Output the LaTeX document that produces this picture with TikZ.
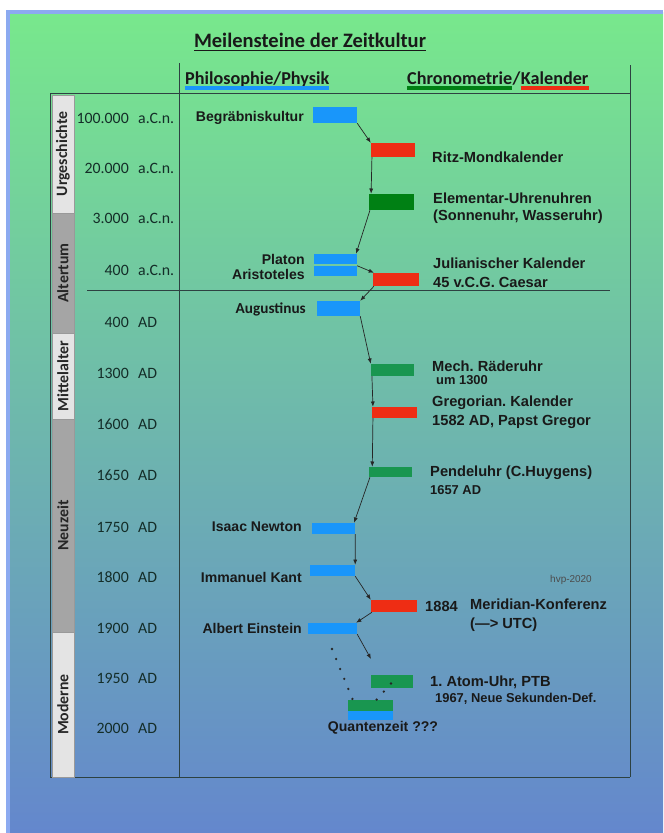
\documentclass[tikz,border=0pt]{standalone}
\usepackage{fontspec}
\setmainfont{Liberation Sans}
\newfontfamily\calibri{Carlito}
\usetikzlibrary{arrows.meta,calc}
\frenchspacing
\definecolor{philblue}{RGB}{25,150,250}
\definecolor{calred}{RGB}{238,45,20}
\definecolor{elemgreen}{RGB}{0,128,20}
\definecolor{uhrgreen}{RGB}{25,150,80}
\definecolor{eralight}{RGB}{228,228,228}
\definecolor{eragray}{RGB}{165,165,165}
\definecolor{linegray}{RGB}{45,65,65}
\definecolor{lbltext}{RGB}{25,25,25}
\definecolor{datetext}{RGB}{20,45,40}
\definecolor{bgtop}{RGB}{120,232,140}
\definecolor{bgmid}{RGB}{100,196,160}
\definecolor{bgbot}{RGB}{100,135,205}
\definecolor{frameblue}{RGB}{140,170,240}

\begin{document}
\begin{tikzpicture}[
  x=0.03cm, y=-0.03cm,
  bar/.style={rectangle, inner sep=0pt, minimum width=1.32cm, minimum height=0.36cm},
  philbar/.style={bar, fill=philblue},
  calbar/.style={bar, fill=calred},
  uhrbar/.style={bar, fill=uhrgreen},
  elembar/.style={bar, fill=elemgreen},
  erabox/.style={rectangle, draw=black!40, line width=0.4pt, inner sep=0pt,
    minimum width=0.66cm, text=black!85,
    font=\calibri\bfseries\fontsize{13.5}{15}\selectfont},
  yearnum/.style={anchor=east, inner sep=0pt, text=datetext,
    font=\calibri\fontsize{13.5}{15}\selectfont},
  yearsfx/.style={yearnum, anchor=west},
  persl/.style={anchor=east, inner sep=0pt, text=lbltext,
    font=\bfseries\fontsize{12}{14}\selectfont},
  evtl/.style={anchor=west, inner sep=0pt, align=left, text=lbltext,
    font=\bfseries\fontsize{12.5}{14.5}\selectfont},
  evsub/.style={evtl, font=\bfseries\fontsize{11}{13}\selectfont},
  headl/.style={anchor=base west, inner sep=0pt, text=black!90,
    font=\calibri\bfseries\fontsize{15.5}{17}\selectfont},
  frameline/.style={draw=linegray, line width=0.7pt},
  arr/.style={-{Latex[length=4.5pt,width=3.5pt]}, line width=0.6pt, color=black!85},
  dotline/.style={line width=2.2pt, line cap=round, dash pattern=on 0pt off 9.2pt, color=black!85}
]
\useasboundingbox (0,0) rectangle (663,833);
\fill[white] (0,0) rectangle (663,833);
% background
\shade[top color=bgtop, middle color=bgmid, bottom color=bgbot] (8,12) rectangle (663,833);
\draw[frameblue, line width=3pt] (663,12) -- (8,12) -- (8,833);

% title and column heads
\node[font=\calibri\bfseries\fontsize{17.5}{20}\selectfont, text=black!90] (title)
  at (310,42) {\underline{Meilensteine der Zeitkultur}};
\node[headl] (hphil) at (185,84) {Philosophie/Physik};
\node[headl] (hchron) at (407,84) {Chronometrie};
\node[headl] (hslash) at (hchron.base east) {/};
\node[headl] (hkal) at (hslash.base east) {Kalender};
\draw[philblue, line width=3.4pt] ([yshift=-3pt]hphil.base west) -- ([yshift=-3pt]hphil.base east);
\draw[elemgreen, line width=3.4pt] ([yshift=-3pt]hchron.base west) -- ([yshift=-3pt]hchron.base east);
\draw[calred, line width=3.4pt] ([yshift=-3pt]hkal.base west) -- ([yshift=-3pt]hkal.base east);

% table frame
\draw[frameline] (50,93) -- (630,93);
\draw[frameline] (50,93) -- (50,777) -- (630,777);
\draw[frameline] (179,63) -- (179,777);
\draw[frameline] (630,65) -- (630,777);
\draw[frameline] (87,290) -- (610,290);

% eras
\node[erabox, fill=eralight, minimum height=3.54cm] (urg) at (63,154) {\rotatebox{90}{Urgeschichte}};
\node[erabox, fill=eragray, minimum height=3.6cm] (alt) at (63,273) {\rotatebox{90}{Altertum}};
\node[erabox, fill=eralight, minimum height=2.58cm] (mit) at (63,376) {\rotatebox{90}{Mittelalter}};
\node[erabox, fill=eragray, minimum height=6.39cm] (neu) at (63,525.5) {\rotatebox{90}{Neuzeit}};
\node[erabox, fill=eralight, minimum height=4.35cm] (mod) at (63,704.5) {\rotatebox{90}{Moderne}};

% years
\foreach \yy/\num/\sfx [count=\i] in {118/100.000/a.C.n., 168/20.000/a.C.n.,
    218/3.000/a.C.n., 270/400/a.C.n., 322/400/AD, 373/1300/AD, 424/1600/AD,
    475/1650/AD, 527/1750/AD, 577/1800/AD, 628/1900/AD, 678/1950/AD, 728/2000/AD}{
  \node[yearnum] (num\i) at (129,\yy) {\num};
  \node[yearsfx] (sfx\i) at (138,\yy) {\sfx};
}

% bars
\node[philbar, minimum height=0.48cm] (beg) at (335,115) {};
\node[calbar, minimum height=0.42cm] (ritz) at (393,150) {};
\node[elembar, minimum width=1.35cm, minimum height=0.48cm] (elem) at (391.5,202) {};
\node[philbar, minimum width=1.29cm, minimum height=0.3cm] (platon) at (335.5,259) {};
\node[philbar, minimum width=1.29cm, minimum height=0.3cm] (arist) at (335.5,271) {};
\node[calbar, minimum width=1.38cm, minimum height=0.39cm] (julian) at (396,279.5) {};
\node[philbar, minimum width=1.29cm, minimum height=0.45cm] (aug) at (338.5,308.5) {};
\node[uhrbar, minimum width=1.29cm] (mech) at (392.5,370) {};
\node[calbar, minimum width=1.35cm, minimum height=0.33cm] (greg) at (394.5,412.5) {};
\node[uhrbar, minimum width=1.29cm, minimum height=0.3cm] (pend) at (390.5,472) {};
\node[philbar, minimum width=1.29cm, minimum height=0.33cm] (newton) at (333.5,528.5) {};
\node[philbar, minimum width=1.35cm, minimum height=0.33cm] (kant) at (332.5,570.5) {};
\node[calbar, minimum width=1.38cm] (merid) at (394,606) {};
\node[philbar, minimum width=1.47cm, minimum height=0.33cm] (einst) at (332.5,628.5) {};
\node[uhrbar, minimum width=1.26cm, minimum height=0.39cm] (atom) at (392,681.5) {};
\node[uhrbar, minimum width=1.35cm, minimum height=0.33cm] (quantg) at (370.5,705.5) {};
\node[philbar, minimum width=1.35cm, minimum height=0.27cm] (quantb) at (370.5,715.5) {};

% labels left
\node[persl] (begl) at (304,118) {Begräbniskultur};
\node[persl] (platonl) at (305,259) {Platon};
\node[persl] (aristl) at (305,274) {Aristoteles};
\node[persl, font=\calibri\bfseries\fontsize{13}{15}\selectfont] (augl) at (306,309) {Augustinus};
\node[persl] (newtonl) at (302,527) {Isaac Newton};
\node[persl] (kantl) at (302,577) {Immanuel Kant};
\node[persl] (einstl) at (302,628) {Albert Einstein};

% labels right
\node[evtl] (ritzl) at (432,157) {Ritz-Mondkalender};
\node[evtl] (eleml) at (433,208) {Elementar-Uhrenuhren\\(Sonnenuhr, Wasseruhr)};
\node[evtl, font=\bfseries\fontsize{12.5}{16}\selectfont] (julianl) at (433,273) {Julianischer Kalender\\45 v.C.G. Caesar};
\node[evtl] (mechl) at (432,366) {Mech. Räderuhr};
\node[evsub] (mechs) at (436,380) {um 1300};
\node[evtl, font=\bfseries\fontsize{12.5}{16}\selectfont] (gregl) at (432,412) {Gregorian. Kalender\\1582 AD, Papst Gregor};
\node[evtl] (pendl) at (430,473) {Pendeluhr (C.Huygens)};
\node[evsub] (pends) at (430,490) {1657 AD};
\node[evtl] (meridy) at (425,606) {1884};
\node[evtl, font=\bfseries\fontsize{12.5}{16}\selectfont] (meridl) at (470,615.5) {Meridian-Konferenz\\(—> UTC)};
\node[evtl] (atoml) at (430,682) {1. Atom-Uhr, PTB};
\node[evsub] (atoms) at (435,699) {1967, Neue Sekunden-Def.};
\node[persl, anchor=center] (quantl) at (383,728) {Quantenzeit ???};
\node[anchor=center, inner sep=0pt, font=\fontsize{8.5}{10}\selectfont, text=black!70] (sign) at (571,580) {hvp-2020};

% arrows
\draw[arr] (beg.south east) -- (ritz.north west);
\draw[arr] ([xshift=1pt]ritz.south west) -- ([xshift=2pt]elem.north west);
\draw[arr] ([xshift=1pt]elem.south west) -- ([xshift=-1pt]platon.north east);
\draw[arr] (arist.north east) -- ([xshift=1pt]julian.north west);
\draw[arr] ([xshift=1pt]julian.south west) -- (aug.north east);
\draw[arr] (aug.south east) -- (mech.north west);
\draw[arr] ([xshift=1pt]mech.south west) -- ([xshift=1pt]greg.north west);
\draw[arr] ([xshift=1pt]greg.south west) -- ([xshift=3pt]pend.north west);
\draw[arr] ([xshift=1pt]pend.south west) -- ([xshift=-1pt]newton.north east);
\draw[arr] (newton.south east) -- (kant.north east);
\draw[arr] (kant.south east) -- (merid.north west);
\draw[arr] ([xshift=1pt]merid.south west) -- ([xshift=-1pt]einst.north east);
\coordinate (einend) at (371,659);
\draw[arr] (einst.south east) -- (einend);
\coordinate (dotstart) at (332,649);
\draw[dotline] (dotstart) -- ($(quantg.north west)+(5,0)$);
\draw[dotline] ($(atom.center)+(-1,2)$) -- ($(quantg.north)+(6,0)$);
\end{tikzpicture}
\end{document}
